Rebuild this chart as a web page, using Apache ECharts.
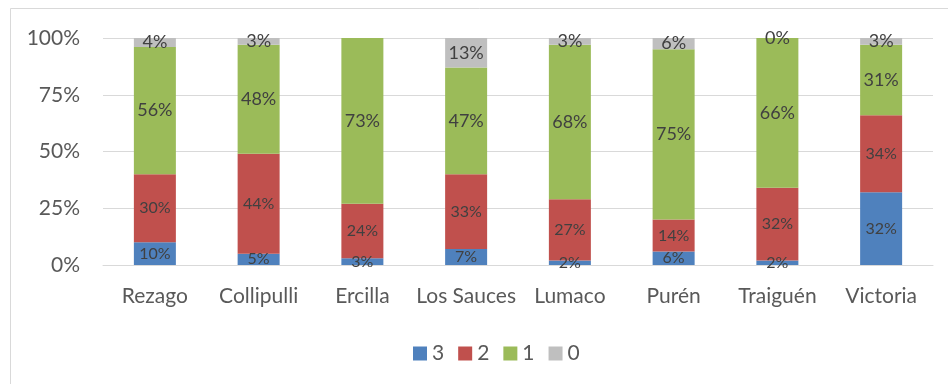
<!DOCTYPE html>
<html>
<head>
<meta charset="utf-8">
<script src="https://cdn.jsdelivr.net/npm/echarts@6/dist/echarts.min.js"></script>
<style>
  html, body { margin: 0; padding: 0; background: #fff; }
  #chart { width: 948px; height: 384px; }
</style>
</head>
<body>
<div id="chart"></div>
<script>
// Communes along the x axis
const categories = ['Rezago', 'Collipulli', 'Ercilla', 'Los Sauces', 'Lumaco', 'Purén', 'Traiguén', 'Victoria'];

// Share (%) of each level per commune
const level3 = [10, 5, 3, 7, 2, 6, 2, 32];
const level2 = [30, 44, 24, 33, 27, 14, 32, 34];
const level1 = [56, 48, 73, 47, 68, 75, 66, 31];
const level0 = [4, 3, null, 13, 3, 6, 0, 3];

const yTicks = [0, 25, 50, 75, 100];

const FONT = 'Lato, "Open Sans", sans-serif';

function makeSeries(name, data, color, fontSize) {
  return {
    name: name,
    type: 'bar',
    stack: 'total',
    barWidth: 42,
    data: data,
    itemStyle: { color: color },
    label: {
      show: true,
      position: 'inside',
      formatter: p => (p.value === null || p.value === undefined) ? '' : p.value + '%',
      color: '#404040',
      fontFamily: FONT,
      fontSize: fontSize
    },
    emphasis: { disabled: true }
  };
}

const chart = echarts.init(document.getElementById('chart'), null, { renderer: 'canvas' });
chart.setOption({
  animation: false,
  backgroundColor: '#fff',
  graphic: [{
    type: 'rect',
    shape: { x: 10.5, y: 8.5, width: 1000, height: 500 },
    style: { fill: 'none', stroke: '#d9d9d9', lineWidth: 1 },
    silent: true
  }],
  grid: { left: 103, right: 15, top: 38, bottom: 119, containLabel: false },
  legend: {
    left: 408,
    top: 338,
    itemWidth: 14,
    itemHeight: 14,
    itemGap: 14,
    icon: 'rect',
    textStyle: { color: '#595959', fontFamily: FONT, fontSize: 21 },
    data: ['3', '2', '1', '0']
  },
  xAxis: {
    type: 'category',
    data: categories,
    axisLine: { show: true, lineStyle: { color: '#d9d9d9', width: 1 } },
    axisTick: { show: false },
    axisLabel: { interval: 0, color: '#595959', fontFamily: FONT, fontSize: 21, margin: 21 }
  },
  yAxis: {
    type: 'value',
    min: yTicks[0],
    max: yTicks[yTicks.length - 1],
    interval: yTicks[1] - yTicks[0],
    axisLine: { show: false },
    axisTick: { show: false },
    splitLine: { lineStyle: { color: '#d9d9d9', width: 1 } },
    axisLabel: { formatter: '{value}%', color: '#595959', fontFamily: FONT, fontSize: 21, margin: 23 }
  },
  series: [
    makeSeries('3', level3, '#4f81bd', 16),
    makeSeries('2', level2, '#c0504d', 16),
    makeSeries('1', level1, '#9bbb59', 18),
    makeSeries('0', level0, '#bfbfbf', 18)
  ]
});
</script>
</body>
</html>
